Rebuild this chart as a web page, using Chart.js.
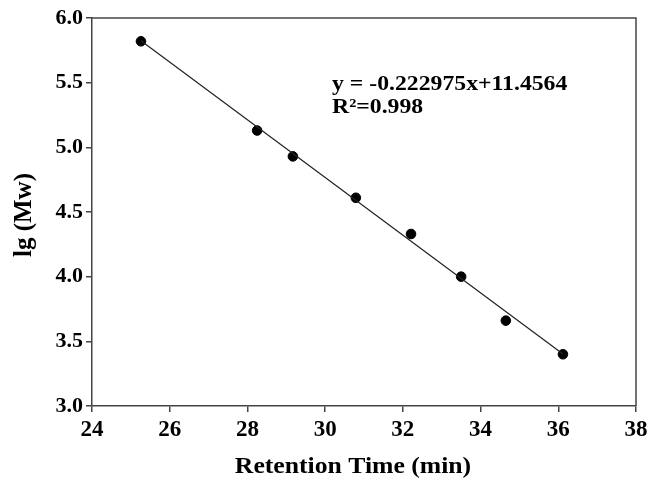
<!DOCTYPE html>
<html>
<head>
<meta charset="utf-8">
<script src="https://cdn.jsdelivr.net/npm/chart.js@4.4.0/dist/chart.umd.min.js"></script>
<style>
  html, body { margin: 0; padding: 0; background: #fff; }
  #wrap { width: 648px; height: 481px; }
</style>
</head>
<body>
<div id="wrap"><canvas id="gpc"></canvas></div>
<script>
// retention time (min) vs lg(Mw)
const retentionTime = [25.26, 28.25, 29.17, 30.79, 32.21, 33.50, 34.65, 36.12];
const lgMw = [5.82, 5.13, 4.93, 4.61, 4.33, 4.00, 3.66, 3.40];

// fitted line end points
const fitX = [25.26, 36.12];
const fitY = [5.824, 3.402];

const eqText = "y = -0.222975x+11.4564";
const r2Text = "R\u00B2=0.998";
const xTitle = "Retention Time (min)";
const yTitle = "lg (Mw)";

const serif = "'Liberation Serif', 'Times New Roman', serif";

// the source figure is a bit stretched sideways, so texts drawn here get a small x scale
function wideText(ctx, text, x, y, sx, align) {
    ctx.save();
    ctx.translate(x, y);
    ctx.scale(sx, 1);
    ctx.textAlign = align || "left";
    ctx.fillText(text, 0, 0);
    ctx.restore();
}

// frame on top / right, axis titles, equation
const framePlugin = {
    id: "frame",
    afterDraw(chart) {
        const { ctx, chartArea: a } = chart;
        ctx.save();
        ctx.strokeStyle = "#444";
        ctx.lineWidth = 1.5;
        ctx.beginPath();
        ctx.moveTo(a.left, a.top);
        ctx.lineTo(a.right, a.top);
        ctx.lineTo(a.right, a.bottom);
        ctx.stroke();

        ctx.fillStyle = "#000";
        ctx.textBaseline = "alphabetic";
        ctx.font = "bold 21px " + serif;
        wideText(ctx, eqText, 332, 90, 1.13);
        wideText(ctx, r2Text, 332, 113, 1.13);

        ctx.font = "bold 24px " + serif;
        wideText(ctx, xTitle, 353, 473, 1.07, "center");

        ctx.save();
        ctx.translate(31, (a.top + a.bottom) / 2 + 3);
        ctx.rotate(-Math.PI / 2);
        ctx.font = "bold 25px " + serif;
        ctx.textAlign = "center";
        ctx.fillText(yTitle, 0, 0);
        ctx.restore();
        ctx.restore();
    },
};

const pts = retentionTime.map((x, i) => ({ x, y: lgMw[i] }));
const fit = fitX.map((x, i) => ({ x, y: fitY[i] }));

new Chart(document.getElementById("gpc").getContext("2d"), {
    type: "scatter",
    data: {
        datasets: [
            {
                type: "line",
                data: fit,
                borderColor: "#222",
                borderWidth: 1.2,
                pointRadius: 0,
                fill: false,
            },
            {
                data: pts,
                backgroundColor: "#000",
                borderColor: "#000",
                pointRadius: 4.8,
                pointHoverRadius: 4.8,
            },
        ],
    },
    options: {
        responsive: true,
        maintainAspectRatio: false,
        animation: false,
        layout: { padding: { top: 18, right: 12, left: 0, bottom: 0 } },
        plugins: { legend: { display: false }, tooltip: { enabled: false } },
        scales: {
            x: {
                type: "linear",
                min: 24,
                max: 38,
                afterFit: (s) => { s.height = 75; s.paddingLeft = 0; s.paddingRight = 0; },
                ticks: {
                    stepSize: 2,
                    color: "#000",
                    padding: 4,
                    font: { family: serif, size: 23, weight: "bold" },
                },
                grid: { drawOnChartArea: false, drawTicks: true, tickLength: 6, color: "#444", lineWidth: 1.5 },
                border: { display: true, color: "#444", width: 1.5 },
            },
            y: {
                type: "linear",
                min: 3,
                max: 6,
                afterFit: (s) => { s.width = 92; s.paddingTop = 0; s.paddingBottom = 0; },
                ticks: {
                    stepSize: 0.5,
                    color: "#000",
                    padding: 3,
                    font: { family: serif, size: 22, weight: "bold" },
                    callback: (v) => v.toFixed(1),
                },
                grid: { drawOnChartArea: false, drawTicks: true, tickLength: 6, color: "#444", lineWidth: 1.5 },
                border: { display: true, color: "#444", width: 1.5 },
            },
        },
    },
    plugins: [framePlugin],
});
</script>
</body>
</html>
